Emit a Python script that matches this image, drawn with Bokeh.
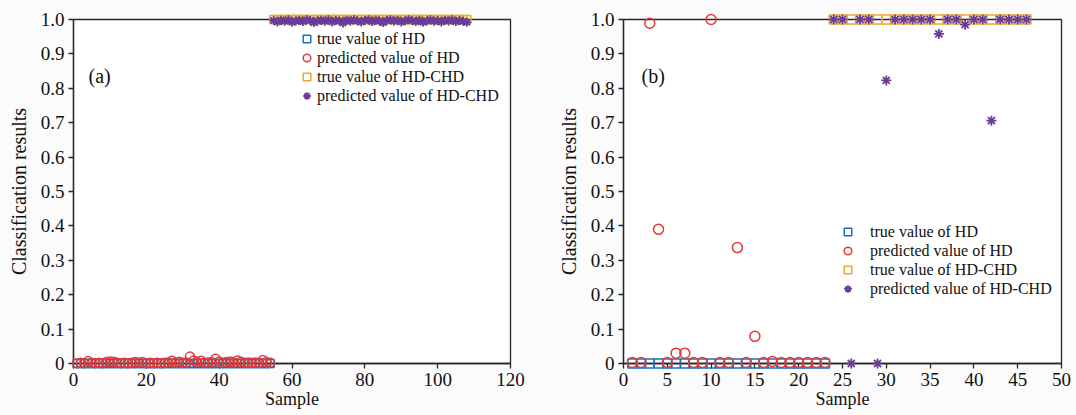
import numpy as np
from bokeh.plotting import figure
from bokeh.layouts import row
from bokeh.models import (Range1d, FixedTicker, CustomJSTickFormatter, Legend, LegendItem, Label)
from bokeh.embed import file_html
from bokeh.resources import INLINE

# ---------------- data ----------------
# panel (a)
samples_hd_a = list(range(1, 55))
true_hd_a = [0] * 54
pred_hd_a = [0.001, 0.002, 0.001, 0.007, 0.002, 0.001, 0.002, 0.001, 0.004, 0.006,
             0.005, 0.002, 0.001, 0.002, 0.001, 0.002, 0.004, 0.002, 0.004, 0.001,
             0.002, 0.001, 0.002, 0.001, 0.002, 0.003, 0.008, 0.002, 0.005, 0.002,
             0.003, 0.020, 0.009, 0.004, 0.008, 0.002, 0.003, 0.004, 0.014, 0.006,
             0.002, 0.004, 0.006, 0.003, 0.009, 0.005, 0.002, 0.003, 0.002, 0.003,
             0.002, 0.010, 0.004, 0.002]
samples_chd_a = list(range(55, 109))
true_chd_a = [1] * 54
pred_chd_a = [0.997, 0.993, 0.998, 0.995, 0.999, 0.992, 0.996, 0.998, 0.994, 0.999,
              0.997, 0.991, 0.996, 0.998, 0.995, 0.999, 0.993, 0.997, 0.996, 0.990,
              0.998, 0.995, 0.999, 0.996, 0.993, 0.997, 0.999, 0.994, 0.998, 0.996,
              0.991, 0.997, 0.999, 0.995, 0.998, 0.993, 0.996, 0.999, 0.997, 0.994,
              0.998, 0.992, 0.996, 0.999, 0.995, 0.997, 0.993, 0.998, 0.996, 0.999,
              0.994, 0.997, 0.995, 0.992]

# panel (b)
samples_hd_b = list(range(1, 24))
true_hd_b = [0] * 23
pred_hd_b = [0.003, 0.003, 0.989, 0.39, 0.003, 0.03, 0.03, 0.003, 0.003, 1.0,
             0.003, 0.003, 0.337, 0.003, 0.079, 0.003, 0.006, 0.003, 0.003, 0.003,
             0.003, 0.003, 0.003]
samples_chd_b = list(range(24, 47))
true_chd_b = [1] * 23
pred_chd_b = [1.0, 1.0, 0.0, 1.0, 1.0, 0.0, 0.823, 1.0, 1.0, 1.0,
              1.0, 1.0, 0.958, 1.0, 1.0, 0.985, 1.0, 1.0, 0.706, 1.0,
              1.0, 1.0, 1.0]

y_ticks = [0, 0.1, 0.2, 0.3, 0.4, 0.5, 0.6, 0.7, 0.8, 0.9, 1.0]
x_ticks_a = [0, 20, 40, 60, 80, 100, 120]
x_ticks_b = [0, 5, 10, 15, 20, 25, 30, 35, 40, 45, 50]

labels = ["true value of HD", "predicted value of HD",
          "true value of HD-CHD", "predicted value of HD-CHD"]

# ---------------- style ----------------
FONT = "Liberation Serif"
C_BLUE = "#1f6fbf"
C_RED = "#e23a36"
C_ORANGE = "#eeaa2a"
C_PURPLE = "#6a3c98"
AX = "#262626"
BG = "#fbfbfb"


def make_panel(width, bl, br, xmax, xticks, data, msize, tag, leg_loc, leg_standoff):
    p = figure(width=width, height=415, output_backend="svg", toolbar_location=None,
               x_range=Range1d(0, xmax), y_range=Range1d(0, 1),
               min_border_left=bl, min_border_right=br, min_border_top=19,
               min_border_bottom=52)
    p.background_fill_color = "white"
    p.border_fill_color = BG
    p.outline_line_color = AX
    p.outline_line_width = 1.3
    p.grid.visible = False

    for ax in (p.xaxis[0], p.yaxis[0]):
        ax.axis_line_color = AX
        ax.axis_line_width = 1.3
        ax.major_tick_line_color = AX
        ax.major_tick_line_width = 1.3
        ax.major_tick_out = 5
        ax.major_tick_in = 0
        ax.minor_tick_line_color = None
        ax.major_label_text_font = FONT
        ax.major_label_text_font_size = "19px"
        ax.major_label_text_color = "#111111"
        ax.axis_label_text_font = FONT
        ax.axis_label_text_font_style = "normal"
        ax.axis_label_text_color = "#111111"
        ax.major_label_standoff = 4

    p.xaxis[0].axis_label_text_font_size = "18px"
    p.yaxis[0].axis_label_text_font_size = "20px"
    p.xaxis[0].ticker = FixedTicker(ticks=xticks)
    p.yaxis[0].ticker = FixedTicker(ticks=y_ticks)
    p.yaxis[0].formatter = CustomJSTickFormatter(
        code="return Math.abs(tick) < 1e-9 ? '0' : tick.toFixed(1);")
    p.xaxis[0].axis_label = "Sample"
    p.yaxis[0].axis_label = "Classification results"
    p.xaxis[0].axis_label_standoff = 0
    p.yaxis[0].axis_label_standoff = 8

    xs_hd, t_hd, pr_hd, xs_chd, t_chd, pr_chd = data
    r1 = p.scatter(xs_hd, t_hd, marker="square", size=msize, fill_color=None,
                   line_color=C_BLUE, line_width=1.5)
    r2 = p.scatter(xs_hd, pr_hd, marker="circle", size=msize + 1, fill_color=None,
                   line_color=C_RED, line_width=1.5)
    r3 = p.scatter(xs_chd, t_chd, marker="square", size=msize, fill_color=None,
                   line_color=C_ORANGE, line_width=1.5)
    r4 = p.scatter(xs_chd, pr_chd, marker="asterisk", size=msize + 1, line_color=C_PURPLE,
                   line_width=1.8)
    for r in (r1, r2, r3, r4):
        r.level = "overlay"

    leg = Legend(items=[LegendItem(label=l, renderers=[r])
                        for l, r in zip(labels, (r1, r2, r3, r4))],
                 location=leg_loc, orientation="vertical")
    leg.label_text_font = FONT
    leg.label_text_font_size = "16px"
    leg.label_text_color = "#111111"
    leg.glyph_width = 19
    leg.glyph_height = 19
    leg.label_height = 19
    leg.spacing = 0
    leg.padding = 0
    leg.margin = 0
    leg.label_standoff = leg_standoff
    leg.border_line_alpha = 0
    leg.background_fill_alpha = 0
    p.add_layout(leg)
    return p


pa = make_panel(550, 73, 40, 120, x_ticks_a,
                (samples_hd_a, true_hd_a, pred_hd_a, samples_chd_a, true_chd_a, pred_chd_a),
                8, "(a)", (224, 258), 1)
pb = make_panel(526, 73, 15, 50, x_ticks_b,
                (samples_hd_b, true_hd_b, pred_hd_b, samples_chd_b, true_chd_b, pred_chd_b),
                9, "(b)", (215, 65), 13)

for p, tag, tx in ((pa, "(a)", 15), (pb, "(b)", 18)):
    p.add_layout(Label(x=tx, y=344 - 45, x_units="screen", y_units="screen",
                       text=tag, text_font=FONT, text_font_size="20px",
                       text_color="#111111", text_baseline="top"))

layout = row(pa, pb)
layout.styles = {"background-color": BG}
open("out.html", "w").write(file_html(layout, INLINE))
